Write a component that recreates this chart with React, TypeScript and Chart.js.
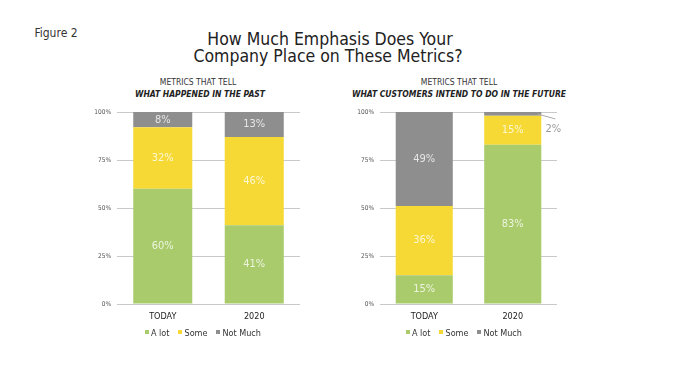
import React, { useEffect, useRef } from "react";
import { Chart, registerables } from "chart.js";

Chart.register(...registerables);

const categories = ["TODAY", "2020"];
const seriesNames = ["A lot", "Some", "Not Much"];
const pastALot = [60, 41];
const pastSome = [32, 46];
const pastNotMuch = [8, 13];
const futureALot = [15, 83];
const futureSome = [36, 15];
const futureNotMuch = [49, 2];
const yTicks = [0, 25, 50, 75, 100];

const COLORS = ["#a9cb6c", "#f6d935", "#8e8e8e"];
const FONT = "'DejaVu Sans Condensed', 'DejaVu Sans', sans-serif";

const labelPlugin = {
  id: "barLabels",
  afterDatasetsDraw(chart: any) {
    const ctx = chart.ctx;
    ctx.save();
    chart.data.datasets.forEach((ds: any, i: number) => {
      const meta = chart.getDatasetMeta(i);
      meta.data.forEach((bar: any, j: number) => {
        const v = ds.data[j];
        const props = bar.getProps(["x", "y", "base", "width"], true);
        const cy = (props.y + props.base) / 2;
        ctx.font = `11px ${FONT}`;
        if (v < 5) {
          const rx = props.x + props.width / 2;
          ctx.strokeStyle = "#aaaaaa";
          ctx.lineWidth = 1;
          ctx.beginPath();
          ctx.moveTo(rx - 4, cy);
          ctx.lineTo(rx + 14, cy + 5);
          ctx.stroke();
          ctx.fillStyle = "#9a9a9a";
          ctx.textAlign = "center";
          ctx.textBaseline = "middle";
          ctx.fillText(v + "%", rx + 12, cy + 15);
        } else {
          ctx.fillStyle = "rgba(255,255,255,0.78)";
          ctx.textAlign = "center";
          ctx.textBaseline = "middle";
          ctx.fillText(v + "%", props.x, cy);
        }
      });
    });
    ctx.restore();
  },
};

function makeConfig(a: number[], s: number[], n: number[], yWidth: number, rightPad: number) {
  const values = [a, s, n];
  return {
    type: "bar" as const,
    data: {
      labels: categories,
      datasets: seriesNames.map((name, k) => ({
        label: name,
        data: values[k],
        backgroundColor: COLORS[k],
        borderWidth: 0,
        categoryPercentage: 1,
        barPercentage: 0.645,
      })),
    },
    options: {
      responsive: false,
      animation: false as const,
      devicePixelRatio: 1,
      layout: { padding: { top: 112, right: rightPad, left: 0, bottom: 0 } },
      plugins: { legend: { display: false }, tooltip: { enabled: false } },
      scales: {
        x: {
          stacked: true,
          grid: { display: false, drawTicks: false },
          border: { display: false },
          ticks: { color: "#222", font: { family: FONT, size: 9 }, padding: 7 },
          afterFit: (sc: any) => { sc.height = 76; },
        },
        y: {
          stacked: true,
          min: 0,
          max: 100,
          afterBuildTicks: (sc: any) => { sc.ticks = yTicks.map((v) => ({ value: v })); },
          grid: { color: "#c9c9c9", lineWidth: 1, drawTicks: false },
          border: { display: false },
          ticks: {
            color: "#555",
            font: { family: FONT, size: 6.5 },
            padding: 6,
            callback: (v: any) => v + "%",
          },
          afterFit: (sc: any) => { sc.width = yWidth; },
        },
      },
    },
    plugins: [labelPlugin],
  };
}

function BarChart(props: { left: number; width: number; a: number[]; s: number[]; n: number[]; yWidth: number; rightPad: number }) {
  const ref = useRef<HTMLCanvasElement>(null);
  useEffect(() => {
    const chart = new Chart(ref.current as HTMLCanvasElement, makeConfig(props.a, props.s, props.n, props.yWidth, props.rightPad) as any);
    return () => chart.destroy();
  }, []);
  return (
    <canvas
      ref={ref}
      width={props.width}
      height={380}
      style={{ position: "absolute", left: props.left, top: 0, width: props.width, height: 380 }}
    />
  );
}

function Text(props: { x: number; y: number; size: number; children: any; style?: any }) {
  return (
    <div
      style={{
        position: "absolute",
        left: props.x,
        top: props.y,
        transform: "translate(-50%, -50%)",
        whiteSpace: "nowrap",
        lineHeight: 1,
        fontFamily: FONT,
        fontSize: props.size,
        ...props.style,
      }}
    >
      {props.children}
    </div>
  );
}

function Legend(props: { left: number; top: number }) {
  return (
    <div style={{ position: "absolute", left: props.left, top: props.top, display: "flex", fontFamily: FONT, fontSize: 9, color: "#333", lineHeight: 1 }}>
      {seriesNames.map((name, k) => (
        <div key={name} style={{ display: "flex", alignItems: "flex-start", marginRight: 9 }}>
          <span style={{ display: "inline-block", width: 4, height: 4, background: COLORS[k], marginTop: 1, marginRight: 2 }} />
          <span>{name}</span>
        </div>
      ))}
    </div>
  );
}

export default function App() {
  return (
    <div style={{ position: "absolute", left: 0, top: 0, width: 675, height: 380, background: "#fff", overflow: "hidden" }}>
      <Text x={56} y={33} size={12} style={{ color: "#333" }}>Figure 2</Text>
      <Text x={330} y={40} size={17.5} style={{ color: "#222" }}>How Much Emphasis Does Your</Text>
      <Text x={328} y={56.5} size={17.5} style={{ color: "#222" }}>Company Place on These Metrics?</Text>
      <Text x={198} y={82} size={8.5} style={{ color: "#333" }}>METRICS THAT TELL</Text>
      <Text x={200} y={94} size={8.5} style={{ color: "#222", fontWeight: "bold", fontStyle: "italic" }}>WHAT HAPPENED IN THE PAST</Text>
      <Text x={459} y={82} size={8.5} style={{ color: "#333" }}>METRICS THAT TELL</Text>
      <Text x={459} y={94} size={8.5} style={{ color: "#222", fontWeight: "bold", fontStyle: "italic" }}>WHAT CUSTOMERS INTEND TO DO IN THE FUTURE</Text>
      <BarChart left={0} width={340} a={pastALot} s={pastSome} n={pastNotMuch} yWidth={117} rightPad={40} />
      <BarChart left={340} width={335} a={futureALot} s={futureSome} n={futureNotMuch} yWidth={40} rightPad={118} />
      <Legend left={145} top={329} />
      <Legend left={406} top={329} />
    </div>
  );
}
